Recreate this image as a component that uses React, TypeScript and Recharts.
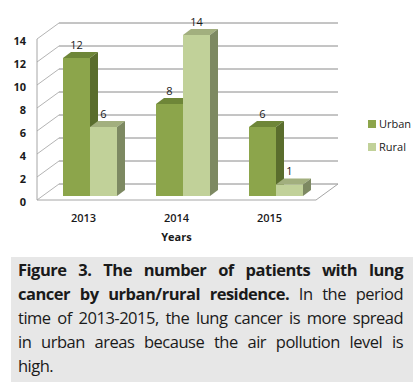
import React from 'react'
import { BarChart, Bar, XAxis, YAxis, CartesianGrid, Legend, LabelList, ReferenceLine } from 'recharts'

const years = ['2013', '2014', '2015']
const urbanCases = [12, 8, 6]
const ruralCases = [6, 14, 1]
const yTicks = [0, 2, 4, 6, 8, 10, 12, 14]

const data = years.map((year, i) => ({ year, urban: urbanCases[i], rural: ruralCases[i] }))

// fake 3D: back wall sits up and to the right of the front axes
const WALL_DX = 22
const WALL_DY = 16
// bars stand a quarter of the way into the floor
const BAR_DX = 6
const BAR_DY = 4
// depth of each bar
const SIDE_DX = 8
const SIDE_DY = 6

const FONT = '"Open Sans", sans-serif'
const TEXT = '#1a1a1a'

const URBAN = { front: '#8ca54b', top: '#6e8638', side: '#5a6d2d' }
const RURAL = { front: '#c1d199', top: '#a2af7e', side: '#7d8962' }

function Bar3D(props: any) {
  const { x, y, width, height, c } = props
  if (!width || height == null) return null
  const fx = x + BAR_DX
  const fy = y - BAR_DY
  const top = `${fx},${fy} ${fx + SIDE_DX},${fy - SIDE_DY} ${fx + width + SIDE_DX},${fy - SIDE_DY} ${fx + width},${fy}`
  const side = `${fx + width},${fy} ${fx + width + SIDE_DX},${fy - SIDE_DY} ${fx + width + SIDE_DX},${fy + height - SIDE_DY} ${fx + width},${fy + height}`
  return (
    <g>
      <rect x={fx} y={fy} width={width} height={height} fill={c.front} />
      <polygon points={top} fill={c.top} />
      <polygon points={side} fill={c.side} />
    </g>
  )
}

function WallLine(props: any) {
  const { x1, y1, x2 } = props
  return (
    <g>
      <line x1={x1} y1={y1} x2={x1 + WALL_DX} y2={y1 - WALL_DY} stroke="#b4b4b4" />
      <line x1={x1 + WALL_DX} y1={y1 - WALL_DY} x2={x2 + WALL_DX} y2={y1 - WALL_DY} stroke="#8a8a8a" />
    </g>
  )
}

function FloorEdge(props: any) {
  const { x1, y1, x2 } = props
  return (
    <g>
      <line x1={x1} y1={y1} x2={x2} y2={y1} stroke="#a6a6a6" />
      <line x1={x2} y1={y1} x2={x2 + WALL_DX} y2={y1 - WALL_DY} stroke="#a6a6a6" />
    </g>
  )
}

function YTick(props: any) {
  const { x, y, payload } = props
  return (
    <text x={x} y={y + 2} dy="0.355em" textAnchor="end" fontSize={11} fontWeight={700} fill={TEXT} fontFamily={FONT}>
      {payload.value}
    </text>
  )
}

function BarValue(props: any) {
  const { x, y, width, value } = props
  return (
    <text x={x + width / 2 + BAR_DX} y={y - BAR_DY - 13} dy="0.355em" textAnchor="middle" fontSize={11} fill={TEXT} fontFamily={FONT}>
      {value}
    </text>
  )
}

function LegendBox() {
  const items = [
    { name: 'Urban', color: URBAN.front },
    { name: 'Rural', color: RURAL.front },
  ]
  return (
    <div style={{ fontFamily: FONT, fontSize: 11, color: TEXT }}>
      {items.map(it => (
        <div key={it.name} style={{ display: 'flex', alignItems: 'center', height: 23 }}>
          <span style={{ width: 8, height: 8, background: it.color, marginRight: 3, display: 'inline-block' }} />
          <span>{it.name}</span>
        </div>
      ))}
    </div>
  )
}

const lineStyle: React.CSSProperties = {
  height: 24,
  lineHeight: '24px',
  textAlign: 'justify',
  textAlignLast: 'justify',
}

export default function App() {
  return (
    <div style={{ position: 'absolute', left: 0, top: 0, width: 417, height: 382, background: '#fff', overflow: 'hidden' }}>
      <BarChart
        width={417}
        height={250}
        data={data}
        margin={{ top: 39, right: 101, left: 0, bottom: 5 }}
        barCategoryGap={20}
        barGap={0}
      >
        <CartesianGrid vertical={false} horizontal={(p: any) => <WallLine key={p.key} {...p} />} />
        <YAxis
          domain={[0, 14]}
          ticks={yTicks}
          interval={0}
          width={37}
          tickLine={false}
          tickSize={6}
          tickMargin={5}
          axisLine={{ stroke: '#a6a6a6' }}
          tick={<YTick />}
        />
        <XAxis
          dataKey="year"
          height={45}
          axisLine={false}
          tickLine={false}
          tickSize={6}
          tickMargin={8}
          tick={{ fontSize: 11, fill: TEXT, fontFamily: FONT, fontWeight: 600 }}
          label={{
            content: (lp: any) => {
              const vb = lp.viewBox
              return (
                <text x={vb.x + vb.width / 2} y={237} dy="0.355em" textAnchor="middle" fontSize={11} fontWeight={700} fill={TEXT} fontFamily={FONT}>
                  Years
                </text>
              )
            },
          }}
        />
        <ReferenceLine y={0} shape={(p: any) => <FloorEdge {...p} />} />
        <Bar dataKey="urban" name="Urban" isAnimationActive={false} shape={(p: any) => <Bar3D {...p} c={URBAN} />}>
          <LabelList dataKey="urban" content={<BarValue />} />
        </Bar>
        <Bar dataKey="rural" name="Rural" isAnimationActive={false} shape={(p: any) => <Bar3D {...p} c={RURAL} />}>
          <LabelList dataKey="rural" content={<BarValue />} />
        </Bar>
        <Legend
          layout="vertical"
          align="center"
          verticalAlign="middle"
          wrapperStyle={{ left: 368, top: 112, width: 50 }}
          content={() => <LegendBox />}
        />
      </BarChart>
      <div
        style={{
          position: 'absolute',
          left: 11,
          top: 257,
          width: 402,
          height: 125,
          background: '#e7e7e7',
          boxSizing: 'border-box',
          padding: '1px 10px 0 7px',
          fontFamily: FONT,
          fontSize: 16.5,
          letterSpacing: -0.5,
          color: TEXT,
        }}
      >
        <div style={{ ...lineStyle, fontWeight: 700 }}>Figure 3. The number of patients with lung</div>
        <div style={lineStyle}>
          <b>cancer by urban/rural residence.</b> In the period
        </div>
        <div style={lineStyle}>time of 2013-2015, the lung cancer is more spread</div>
        <div style={lineStyle}>in urban areas because the air pollution level is</div>
        <div style={{ ...lineStyle, textAlignLast: 'left' }}>high.</div>
      </div>
    </div>
  )
}
